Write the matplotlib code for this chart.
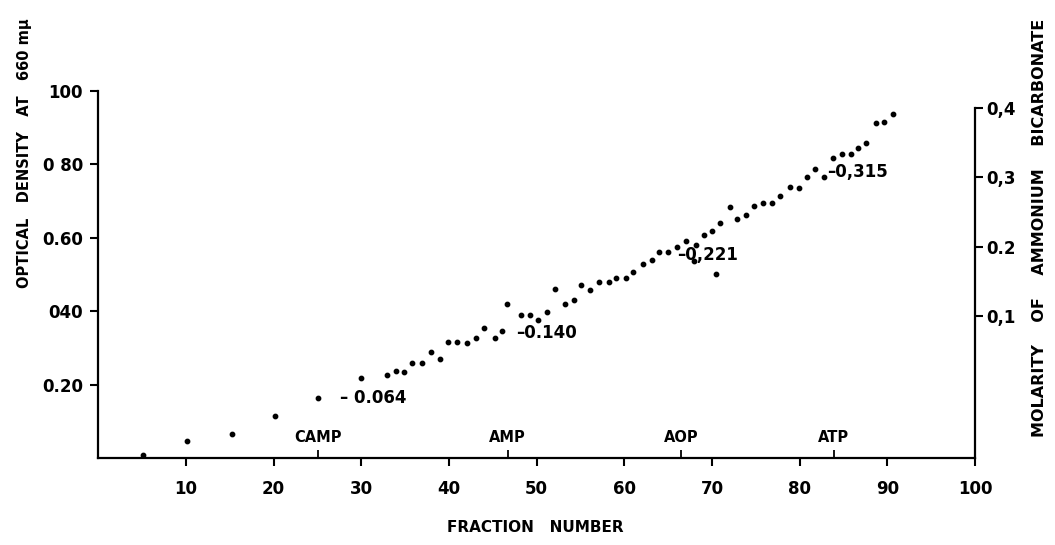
import matplotlib.pyplot as plt

# fraction number vs optical density at 660 m-mu
fraction = [5.1, 10.1, 15.2, 20.1, 25.1, 30.0, 32.9, 33.9, 34.9, 35.8, 36.9, 37.9,
            39.0, 39.9, 40.9, 42.0, 43.1, 44.0, 45.3, 46.0, 46.6, 48.2, 49.2, 50.1,
            51.2, 52.1, 53.2, 54.2, 55.1, 56.1, 57.1, 58.2, 59.1, 60.2, 61.0, 62.1,
            63.1, 64.0, 65.0, 66.0, 67.0, 68.0, 68.2, 69.1, 70.0, 70.5, 70.9, 72.0,
            72.9, 73.9, 74.8, 75.8, 76.8, 77.8, 78.9, 79.9, 80.8, 81.7, 82.8, 83.8,
            84.8, 85.8, 86.7, 87.6, 88.7, 89.6, 90.7]
density = [0.008, 0.046, 0.065, 0.115, 0.164, 0.217, 0.227, 0.238, 0.235, 0.258, 0.258, 0.288,
           0.269, 0.317, 0.317, 0.314, 0.326, 0.355, 0.326, 0.347, 0.419, 0.389, 0.389, 0.376,
           0.399, 0.460, 0.420, 0.431, 0.471, 0.458, 0.480, 0.479, 0.490, 0.490, 0.506, 0.528,
           0.540, 0.560, 0.560, 0.576, 0.591, 0.537, 0.580, 0.608, 0.619, 0.501, 0.640, 0.683,
           0.650, 0.662, 0.688, 0.696, 0.696, 0.715, 0.738, 0.735, 0.767, 0.787, 0.765, 0.817,
           0.828, 0.828, 0.844, 0.857, 0.912, 0.915, 0.937]

# molarity notes next to the curve
note_text = ["– 0.064", "–0.140", "–0,221", "–0,315"]
note_x = [27.6, 47.7, 66.0, 83.1]
note_y = [0.163, 0.340, 0.553, 0.779]

# nucleotide peak positions marked on the axis
peak_names = ["CAMP", "AMP", "AOP", "ATP"]
peak_x = [25.1, 46.7, 66.5, 83.9]

x_ticks = [10, 20, 30, 40, 50, 60, 70, 80, 90, 100]
od_ticks = [0.2, 0.4, 0.6, 0.8, 1.0]
od_labels = ["0.20", "040", "0.60", "0 80", "100"]
mol_ticks = [0.1, 0.2, 0.3, 0.4]
mol_labels = ["0,1", "0.2", "0,3", "0,4"]

plt.rcParams["font.family"] = "DejaVu Sans"
plt.rcParams["font.weight"] = "bold"

fig = plt.figure(figsize=(10.55, 5.45), dpi=100)
ax = fig.add_axes([0.0932, 0.1596, 0.831, 0.6734])

ax.scatter(fraction, density, s=10, color="black", zorder=3, clip_on=False)

for t, x, y in zip(note_text, note_x, note_y):
    ax.text(x, y, t, fontsize=12, va="center", ha="left")

ax.vlines(peak_x, 0, 0.022, color="black", lw=1.3, transform=ax.get_xaxis_transform())
for name, x in zip(peak_names, peak_x):
    ax.text(x, 0.055, name, fontsize=10.5, ha="center", va="center",
            transform=ax.get_xaxis_transform())

ax.set_xlim(0, 100)
ax.set_ylim(0, 1.0)
ax.set_xticks(x_ticks)
ax.set_xticklabels([str(v) for v in x_ticks])
ax.set_yticks(od_ticks)
ax.set_yticklabels(od_labels)
ax.tick_params(axis="both", direction="out", length=6, width=1.5, labelsize=12, pad=5)
ax.tick_params(axis="x", pad=10)

ax.spines["top"].set_visible(False)
ax.spines["right"].set_visible(False)
ax.spines["left"].set_linewidth(1.6)
ax.spines["bottom"].set_linewidth(1.6)
ax.spines["left"].set_bounds(0, 1.0)

# molarity scale on the right, zero sits level with the 0.20 density tick
ax2 = ax.twinx()
ax2.set_ylim(-0.105, 0.4245)
ax2.set_yticks(mol_ticks)
ax2.set_yticklabels(mol_labels)
ax2.tick_params(axis="y", direction="out", length=6, width=1.5, labelsize=12, pad=2)
for side in ["top", "left", "bottom"]:
    ax2.spines[side].set_visible(False)
ax2.spines["right"].set_linewidth(1.6)
ax2.spines["right"].set_bounds(-0.105, 0.4)

fig.text(535 / 1055, 1 - 527 / 545, "FRACTION   NUMBER", fontsize=11,
         ha="center", va="center")
fig.text(25 / 1055, 1 - 153 / 545, "OPTICAL   DENSITY   AT   660 mμ", fontsize=10.5,
         rotation=90, ha="center", va="center")
fig.text(1040 / 1055, 1 - 228 / 545, "MOLARITY    OF    AMMONIUM    BICARBONATE", fontsize=11.5,
         rotation=90, ha="center", va="center")

fig.savefig("out.png", dpi=100)
